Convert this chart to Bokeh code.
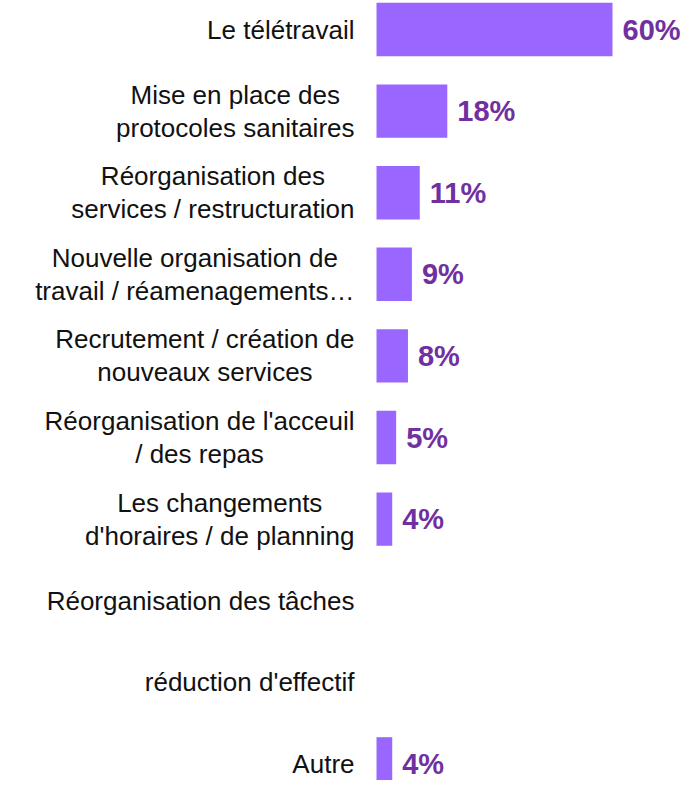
from bokeh.plotting import figure
from bokeh.models import ColumnDataSource, Range1d
from bokeh.core.properties import value
from bokeh.embed import file_html
from bokeh.resources import INLINE

categories = [
    "Le télétravail",
    "Mise en place des\nprotocoles sanitaires",
    "Réorganisation des\nservices / restructuration",
    "Nouvelle organisation de\ntravail / réamenagements…",
    "Recrutement / création de\nnouveaux services",
    "Réorganisation de l'acceuil\n/ des repas",
    "Les changements\nd'horaires / de planning",
    "Réorganisation des tâches",
    "réduction d'effectif",
    "Autre",
]
values = [60, 18, 11, 9, 8, 5, 4, 0, 0, 4]
value_labels = ["60%", "18%", "11%", "9%", "8%", "5%", "4%", "", "", "4%"]

idx = list(range(len(categories)))

src = ColumnDataSource(dict(y=idx, v=values, cat=categories, lab=value_labels,
                            zero=[0] * len(idx)))

W, H = 681, 780
bar_left_px = 376
px_per_unit = 236 / 60.0
x0 = -bar_left_px / px_per_unit
x1 = x0 + W / px_per_unit
pitch = 81.6
first_center_px = 29
y_top = -first_center_px / pitch
y_bot = y_top + H / pitch

p = figure(width=W, height=H, output_backend="svg", toolbar_location=None,
           x_range=Range1d(x0, x1), y_range=Range1d(y_bot, y_top),
           min_border=0, min_border_left=0, min_border_right=0,
           min_border_top=0, min_border_bottom=0)
p.axis.visible = False
p.grid.visible = False
p.outline_line_color = None
p.background_fill_color = "white"
p.border_fill_color = "white"

p.hbar(y="y", left="zero", right="v", height=0.655, source=src,
       fill_color="#9966ff", line_color=None)

p.text(x="zero", y="y", text="cat", source=src, x_offset=-22,
       anchor="center_right", text_align="center", text_baseline="middle",
       text_font=value("Liberation Sans"), text_font_size="26px",
       text_color="#111111", text_line_height=1.1)

p.text(x="v", y="y", text="lab", source=src, x_offset=10,
       text_align="left", text_baseline="middle",
       text_font=value("Liberation Sans"), text_font_size="29px",
       text_font_style="bold", text_color="#7030a0")

open("out.html", "w").write(file_html(p, INLINE))
